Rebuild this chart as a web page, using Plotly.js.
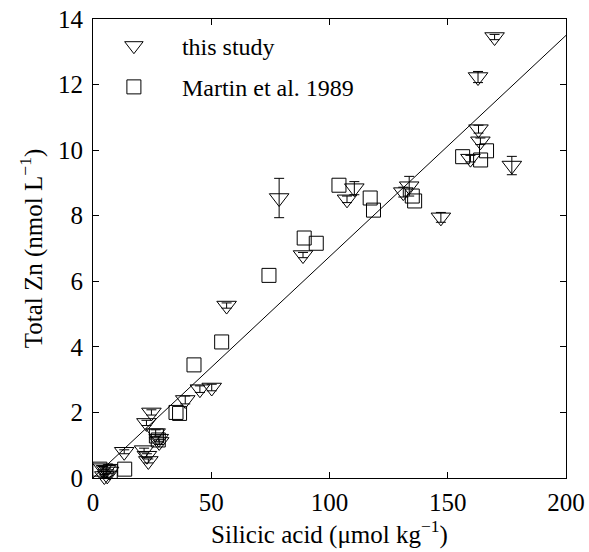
<!DOCTYPE html>
<html>
<head>
<meta charset="utf-8">
<script src="https://cdn.plot.ly/plotly-3.0.1.min.js"></script>
<style>html,body{margin:0;padding:0;background:#fff;}#chart{width:589px;height:552px;}</style>
</head>
<body>
<div id="chart"></div>
<script>
// "this study" (triangles) — silicic acid, total Zn, error (±)
const studyX   = [169.8, 162.8, 163.0, 163.8, 159.6, 177.1, 147.1, 131.2, 133.7, 107.4, 110.5, 78.7, 88.8, 56.5, 50.2, 45.2, 39.0, 24.7, 22.6, 26.5, 27.8, 28.0, 21.6, 22.8, 23.4, 13.2, 4.2, 5.5, 6.8, 4.8, 6.0];
const studyY   = [13.45, 12.23, 10.64, 10.27, 9.74, 9.53, 7.95, 8.72, 8.90, 8.50, 8.84, 8.54, 6.80, 5.26, 2.76, 2.71, 2.38, 2.00, 1.68, 1.37, 1.20, 1.10, 0.85, 0.68, 0.52, 0.80, 0.30, 0.25, 0.20, 0.06, 0.08];
const studyErr = [0.08, 0.17, 0.12, 0.10, 0.10, 0.28, 0.15, 0.15, 0.30, 0.10, 0.20, 0.60, 0.08, 0.08, 0.10, 0.10, 0.12, 0.08, 0.08, 0.10, 0.08, 0.08, 0.06, 0.06, 0.06, 0.06, 0.05, 0.05, 0.05, 0.05, 0.05];

// Martin et al. 1989 (squares)
const martinX = [166.4, 156.3, 163.9, 135.0, 136.0, 104.0, 117.2, 118.6, 89.3, 94.4, 74.4, 54.4, 42.7, 35.1, 36.6, 26.8, 27.6, 13.4, 2.9, 7.3];
const martinY = [9.98, 9.80, 9.70, 8.60, 8.45, 8.93, 8.54, 8.17, 7.32, 7.16, 6.18, 4.15, 3.45, 2.00, 1.97, 1.28, 1.16, 0.27, 0.27, 0.20];

// regression line
const fitX = [0, 200];
const fitY = [0, 13.5];

const xTicks = [0, 50, 100, 150, 200];
const yTicks = [0, 2, 4, 6, 8, 10, 12, 14];

const FONT = "'Liberation Serif', 'Times New Roman', Times, serif";

const traces = [
  {
    x: fitX, y: fitY, mode: 'lines', type: 'scatter',
    line: {color: '#000', width: 1}, showlegend: false, hoverinfo: 'skip'
  },
  {
    x: studyX, y: studyY, mode: 'markers', type: 'scatter', name: 'this study',
    legendgroup: 'a', cliponaxis: false,
    marker: {symbol: 'triangle-down-open', size: 17, color: '#000', line: {color: '#000', width: 1}},
    error_y: {type: 'data', array: studyErr, visible: true, color: '#000', thickness: 1, width: 5}
  },
  {
    x: martinX, y: martinY, mode: 'markers', type: 'scatter', name: 'Martin et al. 1989',
    legendgroup: 'b', cliponaxis: false,
    marker: {symbol: 'square-open', size: 14, color: '#000', line: {color: '#000', width: 1}}
  }
];

const axisCommon = {
  showline: true, linecolor: '#000', linewidth: 1, mirror: 'ticks',
  ticks: 'inside', ticklen: 6, tickcolor: '#000', tickwidth: 1,
  showgrid: false, zeroline: false,
  tickfont: {family: FONT, size: 25, color: '#000'}
};

const layout = {
  width: 589, height: 552,
  margin: {l: 93, r: 23, t: 19, b: 74},
  paper_bgcolor: '#fff', plot_bgcolor: '#fff',
  font: {family: FONT, color: '#000'},
  xaxis: Object.assign({}, axisCommon, {
    range: [0, 200], tickvals: xTicks, ticktext: xTicks.map(String),
    ticklabelstandoff: 2,
    title: {text: 'Silicic acid (μmol kg<sup>−1</sup>)', font: {family: FONT, size: 25, color: '#000'}, standoff: 4}
  }),
  yaxis: Object.assign({}, axisCommon, {
    range: [0, 14], tickvals: yTicks, ticktext: yTicks.map(String),
    ticklabelstandoff: 4,
    title: {text: 'Total Zn (nmol L<sup>−1</sup>)', font: {family: FONT, size: 25, color: '#000'}, standoff: 8}
  }),
  showlegend: true,
  legend: {
    x: -0.015, y: 0.99, xanchor: 'left', yanchor: 'top',
    bgcolor: 'rgba(0,0,0,0)', borderwidth: 0,
    font: {family: FONT, size: 24, color: '#000'},
    itemwidth: 86,
    traceorder: 'grouped', tracegroupgap: 7
  }
};

Plotly.newPlot('chart', traces, layout, {displayModeBar: false, staticPlot: true});
</script>
</body>
</html>
